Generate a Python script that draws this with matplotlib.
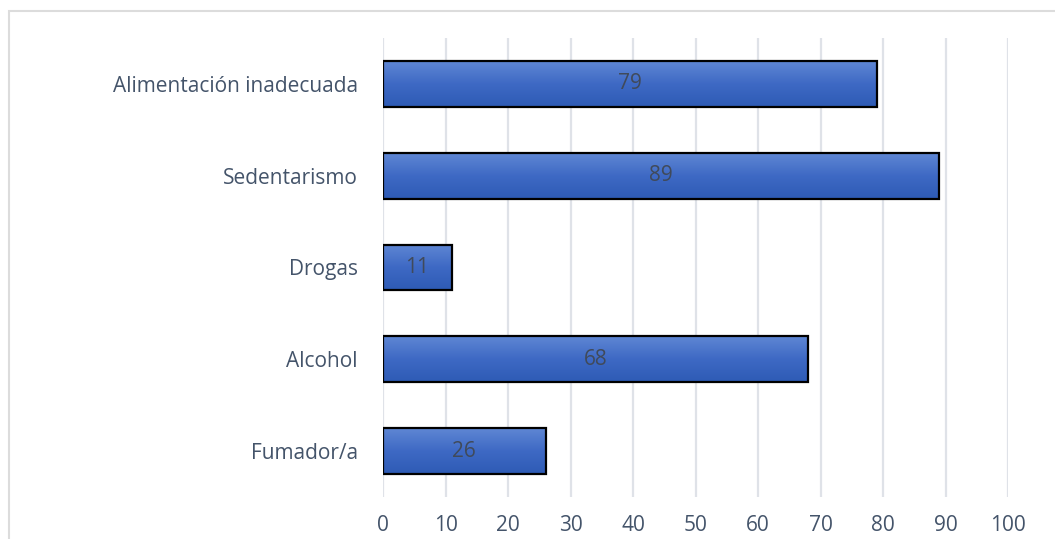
import numpy as np
import matplotlib
matplotlib.use("Agg")
import matplotlib.pyplot as plt
from matplotlib.colors import LinearSegmentedColormap
from matplotlib.patches import Rectangle

categories = ["Alimentación inadecuada", "Sedentarismo", "Drogas", "Alcohol", "Fumador/a"]
values = [79, 89, 11, 68, 26]
x_ticks = [0, 10, 20, 30, 40, 50, 60, 70, 80, 90, 100]

W, H = 1055, 539
fig = plt.figure(figsize=(W / 100, H / 100), dpi=100)
plt.rcParams["font.family"] = ["Open Sans", "DejaVu Sans"]
text_color = "#44546A"

# outer chart frame
fig.patches.append(Rectangle((9 / W, -0.05), 1.1, 1 - 11 / H + 0.05, transform=fig.transFigure,
                             fill=False, edgecolor="#DCDCDC", linewidth=1.5))

ax = fig.add_axes([383 / W, 1 - 497 / H, (1008 - 383) / W, (497 - 38) / H])
ax.set_xlim(0, 100)
ax.set_ylim(len(categories) - 0.5, -0.5)
ax.set_facecolor("none")

for s in ax.spines.values():
    s.set_visible(False)

ax.set_xticks(x_ticks)
ax.set_yticks(range(len(categories)))
ax.set_yticklabels(categories)
ax.tick_params(axis="both", length=0, labelsize=15, colors=text_color)
ax.tick_params(axis="y", pad=18)
ax.tick_params(axis="x", pad=13)
ax.grid(axis="x", color="#DFE2E8", linewidth=1.6)
ax.set_axisbelow(True)

cmap = LinearSegmentedColormap.from_list("barfill", ["#5F87D4", "#3E69C4", "#2E5BB5"])
grad = np.linspace(0, 1, 256).reshape(-1, 1)

bars = ax.barh(range(len(categories)), values, height=0.5, facecolor="none",
               edgecolor="black", linewidth=1.6, zorder=3)
for bar, v in zip(bars, values):
    x0, y0 = bar.get_x(), bar.get_y()
    w, h = bar.get_width(), bar.get_height()
    im = ax.imshow(grad, cmap=cmap, aspect="auto", extent=[x0, x0 + w, y0 + h, y0],
                   origin="upper", zorder=2)
    im.set_clip_path(bar)
    ax.text(x0 + w / 2, y0 + h / 2, str(v), ha="center", va="center",
            fontsize=15, color="#404A5A", zorder=4)

ax.set_xlim(0, 100)
ax.set_ylim(len(categories) - 0.5, -0.5)

fig.savefig("out.png", dpi=100)
